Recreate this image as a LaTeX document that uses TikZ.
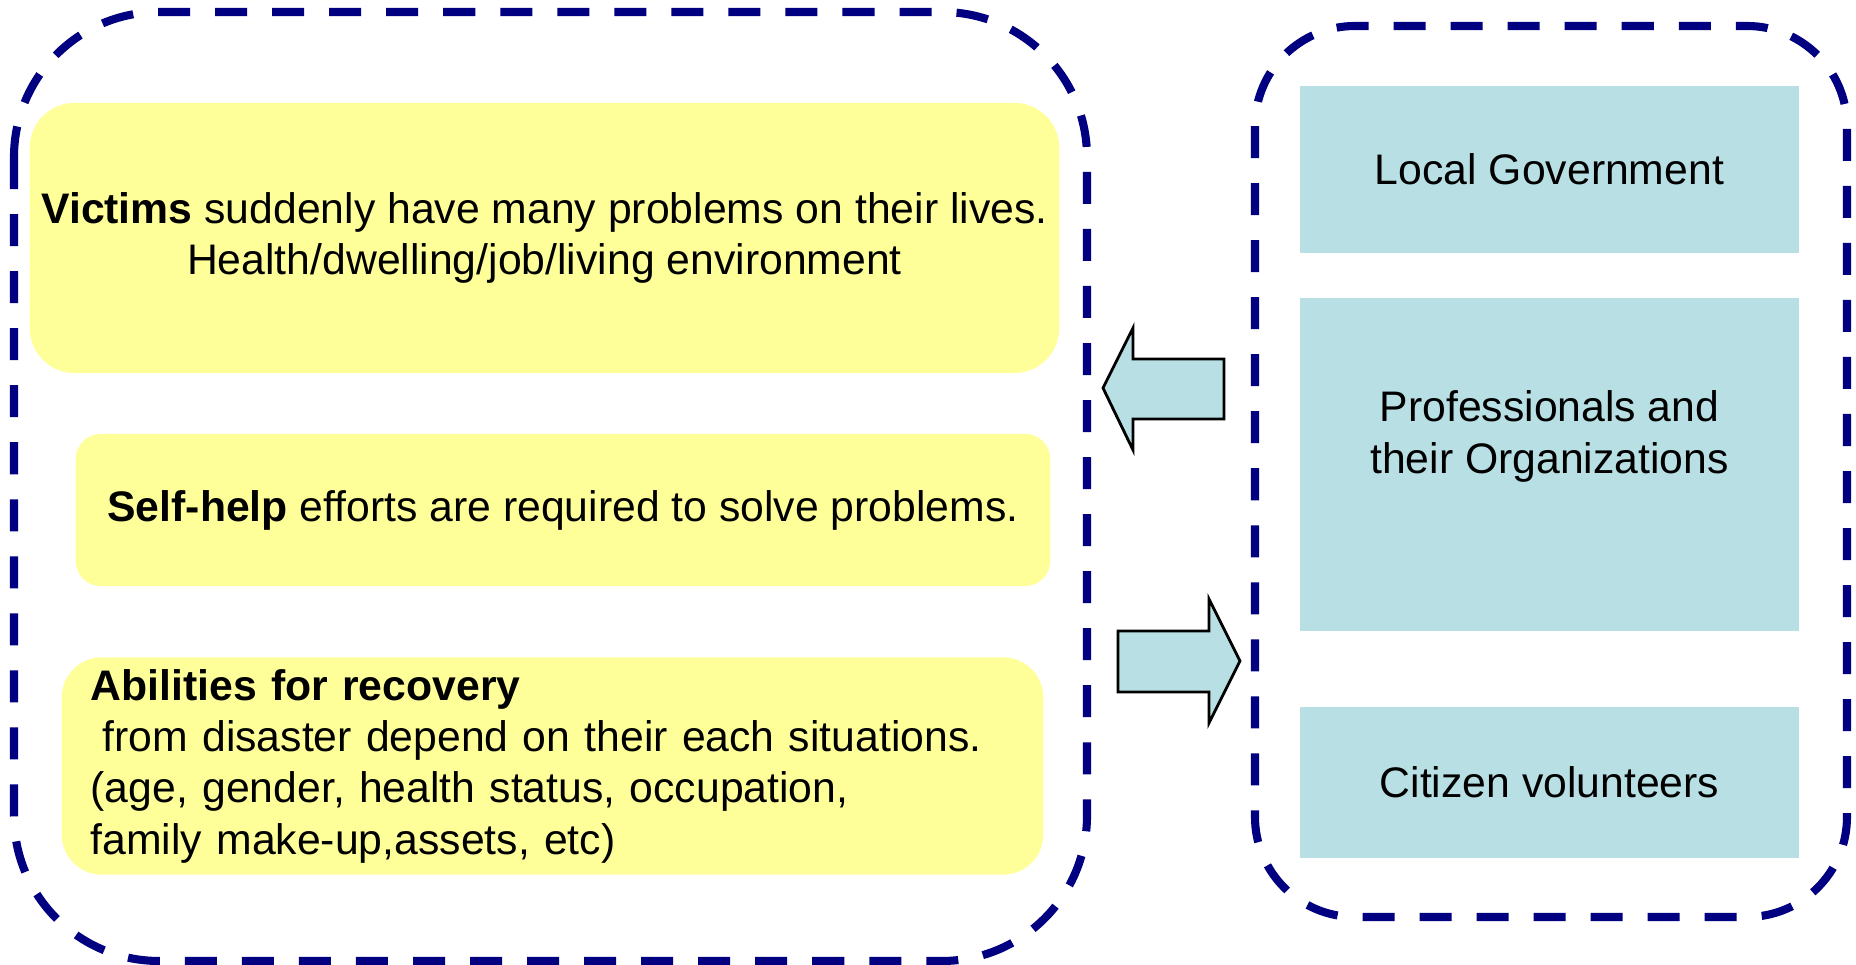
\documentclass[tikz,border=0pt]{standalone}
\usepackage{fontspec}
\setmainfont{Liberation Sans}
\definecolor{navyline}{RGB}{0,0,128}
\definecolor{paleyellow}{RGB}{255,255,153}
\definecolor{paleblue}{RGB}{184,223,227}
\tikzset{
  frame/.style={draw=navyline,line width=2.3pt,dash pattern=on 0.32cm off 0.25cm},
  victimbox/.style={fill=paleyellow,font=\fontsize{12.15}{14.6}\selectfont},
  supportbox/.style={fill=paleblue,minimum width=4.99cm,align=center,font=\fontsize{12.15}{14.6}\selectfont},
  blockarrow/.style={draw=black,fill=paleblue,line width=0.8pt,line join=miter}
}
\begin{document}
\begin{tikzpicture}[x=0.01cm,y=-0.01cm]
\useasboundingbox (0,0) rectangle (1856,965);
\draw[frame,rounded corners=1.45cm] (14,12) rectangle (1087,961);
\draw[frame,rounded corners=1.0cm] (1255,26) rectangle (1847,917);
\node[victimbox,rounded corners=0.45cm,minimum width=10.25cm,minimum height=2.7cm,align=center] (victims) at (544.5,238)
  {\textbf{Victims} suddenly have many problems on their lives.\\Health/dwelling/job/living environment};
\node[victimbox,rounded corners=0.25cm,minimum width=9.74cm,minimum height=1.52cm,align=center] (selfhelp) at (563,510)
  {\textbf{Self-help} efforts are required to solve problems.};
\node[victimbox,rounded corners=0.4cm,minimum width=9.81cm,minimum height=2.12cm,inner xsep=0.29cm,text width=9.23cm,align=left] (abilities) at (552.5,766)
  {\textbf{Abilities for recovery}\\\hspace*{0.28em}from disaster depend on their each situations.\\(age, gender, health status, occupation,\\family make-up,assets, etc)};
\node[supportbox,minimum height=1.67cm] (gov) at (1549.5,169.5) {Local Government};
\node[supportbox,minimum height=3.33cm] (prof) at (1549.5,464.5) {};
\node[align=center,font=\fontsize{12.15}{14.6}\selectfont] (proftext) at ([yshift=0.28cm]prof.center) {Professionals and\\their Organizations};
\node[supportbox,minimum height=1.51cm] (citizen) at (1549.5,782.5) {Citizen volunteers};
\draw[blockarrow] (1103,388) -- (1133,328) -- (1133,359) -- (1224,359) -- (1224,419) -- (1133,419) -- (1133,450) -- cycle;
\draw[blockarrow] (1240,661) -- (1209,599) -- (1209,631) -- (1118,631) -- (1118,692) -- (1209,692) -- (1209,723) -- cycle;
\end{tikzpicture}
\end{document}
